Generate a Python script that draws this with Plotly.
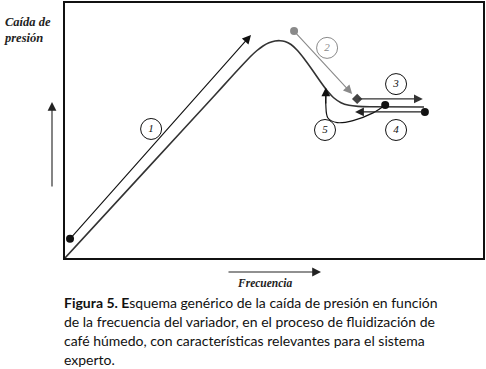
import plotly.graph_objects as go

# Schematic data (arbitrary units: frequency 0-100, pressure drop 0-100)
curve_x = [0, 20.33, 35.89, 39.47, 42.11, 44.26, 45.93, 47.37, 48.80, 50.24, 51.44, 52.63, 54.07, 55.50,
           57.18, 59.09, 61.00, 62.68, 64.35, 66.03, 67.94, 70.10, 72.97, 85.89]
curve_y = [0, 36.24, 63.92, 70.39, 75.10, 78.82, 81.37, 83.14, 84.39, 85.10, 85.22, 84.90, 83.73, 81.57,
           78.24, 73.92, 69.41, 65.69, 62.75, 60.90, 59.88, 59.45, 59.29, 59.22]

# straight arrows: tail -> tip
arrow_tail_x = [1.2, 54.8, 69.9, 86.1]
arrow_tail_y = [7.5, 89.0, 62.4, 57.3]
arrow_tip_x = [44.5, 68.7, 85.6, 69.4]
arrow_tip_y = [87.5, 64.3, 62.4, 57.3]
arrow_colors = ["#111111", "#8a8a8a", "#333333", "#222222"]

# curved return arrow (5)
ret_x = [76.6, 73.7, 68.9, 65.1, 62.9, 62.4, 62.4]
ret_y = [60.0, 56.9, 53.9, 53.1, 54.9, 60.0, 64.0]
ret_tip = (62.4, 66.9)

# step labels
label_text = ["1", "2", "3", "4", "5"]
label_x = [20.6, 62.7, 79.2, 79.2, 62.2]
label_y = [50.6, 82.4, 68.2, 50.2, 50.2]
label_colors = ["#111111", "#8a8a8a", "#111111", "#111111", "#111111"]

# points
black_pts_x = [1.2, 76.6, 86.1]
black_pts_y = [7.5, 60.0, 57.3]
gray_pt = (54.8, 89.0)
diamond_pt = (69.9, 62.4)

caption_lines = [
    "<b>Figura 5. E</b>squema genérico de la caída de presión en función",
    "de la frecuencia del variador, en el proceso de fluidización de",
    "café húmedo, con características relevantes para el sistema",
    "experto.",
]
caption_y_px = [302, 321, 340, 359]

W, H = 486, 369
fig = go.Figure()

fig.add_trace(go.Scatter(x=curve_x, y=curve_y, mode="lines", line=dict(color="#333333", width=1.6, shape="spline", smoothing=0.5),
                         hoverinfo="skip", cliponaxis=False))
fig.add_trace(go.Scatter(x=ret_x, y=ret_y, mode="lines", line=dict(color="#111111", width=1.2, shape="spline", smoothing=1.0),
                         hoverinfo="skip"))

annotations = []
for tx, ty, hx, hy, c in zip(arrow_tail_x, arrow_tail_y, arrow_tip_x, arrow_tip_y, arrow_colors):
    annotations.append(dict(x=hx, y=hy, ax=tx, ay=ty, xref="x", yref="y", axref="x", ayref="y",
                            text="", showarrow=True, arrowhead=2, arrowsize=1.6, arrowwidth=1.1,
                            arrowcolor=c, standoff=0, startstandoff=0))
annotations.append(dict(x=ret_tip[0], y=ret_tip[1], ax=ret_x[-2], ay=ret_y[-2], xref="x", yref="y", axref="x", ayref="y",
                        text="", showarrow=True, arrowhead=2, arrowsize=1.6, arrowwidth=1.1, arrowcolor="#111111"))

fig.add_trace(go.Scatter(x=black_pts_x, y=black_pts_y, mode="markers", marker=dict(color="#111111", size=8),
                         hoverinfo="skip", cliponaxis=False))
fig.add_trace(go.Scatter(x=[gray_pt[0]], y=[gray_pt[1]], mode="markers", marker=dict(color="#8a8a8a", size=8),
                         hoverinfo="skip"))
fig.add_trace(go.Scatter(x=[diamond_pt[0]], y=[diamond_pt[1]], mode="markers", marker=dict(color="#444444", size=8, symbol="diamond"),
                         hoverinfo="skip"))
fig.add_trace(go.Scatter(x=label_x, y=label_y, mode="markers+text", text=label_text, textposition="middle center",
                         textfont=dict(family="Liberation Serif", size=11, color=label_colors, style="italic"),
                         marker=dict(symbol="circle-open", size=21, color=label_colors, line=dict(width=1, color=label_colors)),
                         hoverinfo="skip"))

# axis arrows (outside plot area)
annotations.append(dict(x=52 / W, y=1 - 102 / H, ax=0, ay=86, xref="paper", yref="paper", axref="pixel", ayref="pixel",
                        text="", showarrow=True, arrowhead=2, arrowsize=1.6, arrowwidth=1.1, arrowcolor="#222222"))
annotations.append(dict(x=321 / W, y=1 - 272 / H, ax=-94, ay=0, xref="paper", yref="paper", axref="pixel", ayref="pixel",
                        text="", showarrow=True, arrowhead=2, arrowsize=1.6, arrowwidth=1.1, arrowcolor="#222222"))

annotations.append(dict(x=2 / W, y=1 - 13 / H, xref="paper", yref="paper", xanchor="left", yanchor="top", align="left",
                        text="<b><i>Caída de<br>presión</i></b>", showarrow=False,
                        font=dict(family="Liberation Serif", size=12.5, color="#222222")))
annotations.append(dict(x=265 / W, y=1 - 283 / H, xref="paper", yref="paper", xanchor="center", yanchor="middle",
                        text="<b><i>Frecuencia</i></b>", showarrow=False,
                        font=dict(family="Liberation Serif", size=11.5, color="#222222")))

for line, ypx in zip(caption_lines, caption_y_px):
    annotations.append(dict(x=62 / W, y=1 - ypx / H, xref="paper", yref="paper", xanchor="left", yanchor="middle",
                            text=line, showarrow=False, font=dict(family="Lato", size=14, color="#111111")))

fig.update_layout(
    width=W, height=H, margin=dict(l=0, r=0, t=0, b=0),
    paper_bgcolor="white", plot_bgcolor="white", showlegend=False,
    xaxis=dict(domain=[65 / W, 483 / W], range=[0, 100], showgrid=False, zeroline=False, showticklabels=False, ticks="",
               showline=True, mirror=True, linecolor="#111111", linewidth=1.6, fixedrange=True),
    yaxis=dict(domain=[1 - 258 / H, 1 - 3 / H], range=[0, 100], showgrid=False, zeroline=False, showticklabels=False, ticks="",
               showline=True, mirror=True, linecolor="#111111", linewidth=1.6, fixedrange=True),
    annotations=annotations,
)

fig.write_html("out.html")
